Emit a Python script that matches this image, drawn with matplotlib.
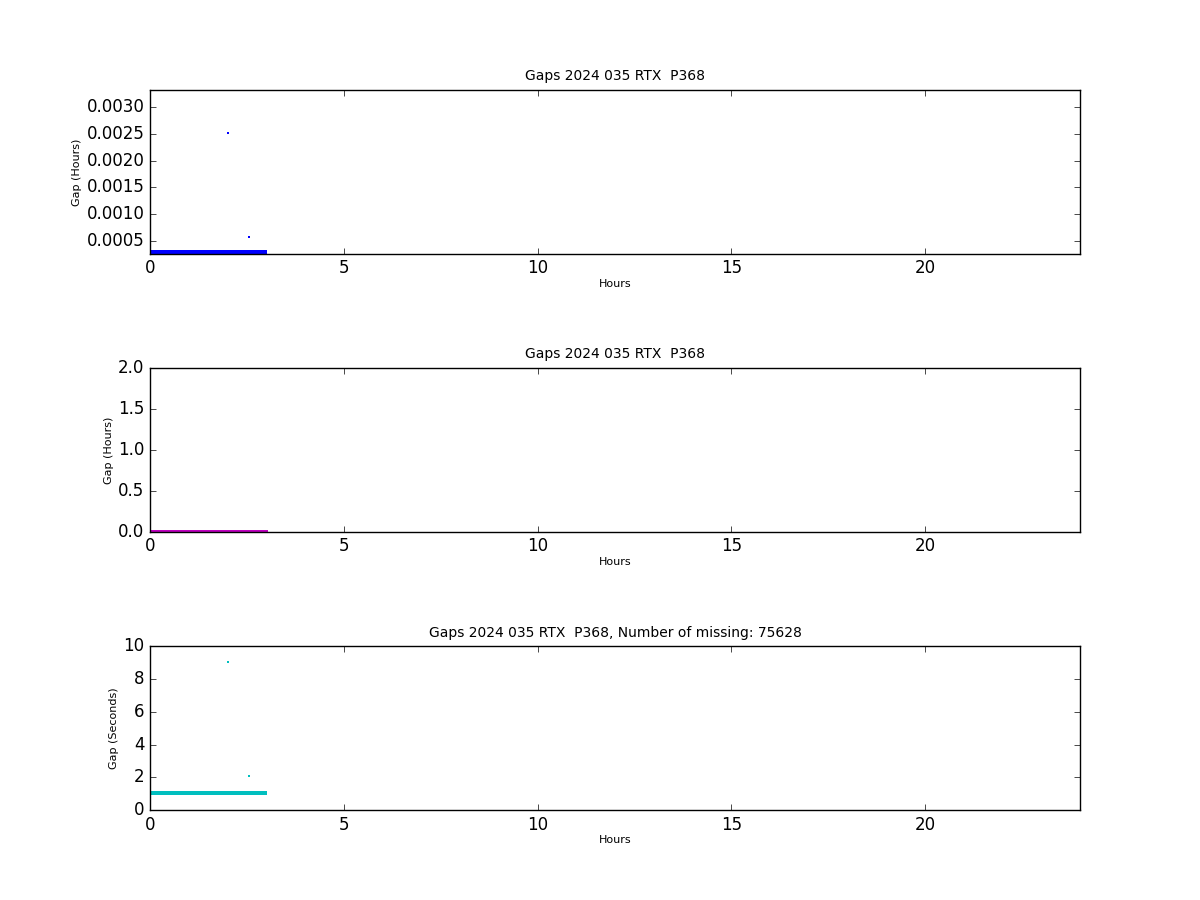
import numpy as np
import matplotlib
matplotlib.use("Agg")
import matplotlib.pyplot as plt

plt.style.use('classic')

# ---- data ----
title_base = "Gaps 2024 035 RTX  P368"
n_missing = 75628
band_start_h = 0.0          # first regular sample (hours)
band_end_h = 3.0            # last regular sample (hours)
sample_step_s = 1.0         # cadence of regular samples (seconds)
band_gap_levels_s = [1.0, 1.1]   # gap values seen in the dense band (seconds)
outlier_hours = [2.0, 2.56]
outlier_gaps_s = [9.05, 2.05]

band_hours = np.arange(band_start_h, band_end_h, sample_step_s / 3600.0)
hours = np.concatenate([band_hours for _ in band_gap_levels_s] + [np.array(outlier_hours)])
gaps_s = np.concatenate([np.full(band_hours.size, g) for g in band_gap_levels_s] + [np.array(outlier_gaps_s)])
gaps_h = gaps_s / 3600.0

xticks = [0, 5, 10, 15, 20]

fig = plt.figure(figsize=(12, 9), dpi=100)
fig.subplots_adjust(left=0.125, right=0.9, bottom=0.1, top=0.9, hspace=0.7)

def style(ax, title, ylabel):
    ax.set_xlim(0, 24)
    ax.set_xticks(xticks)
    ax.set_title(title, fontsize=10, pad=7)
    ax.set_xlabel("Hours", fontsize=8, labelpad=1)
    ax.set_ylabel(ylabel, fontsize=8, labelpad=3)

ax1 = fig.add_subplot(3, 1, 1)
ax1.plot(hours, gaps_h, linestyle='none', marker='s', markersize=1.6,
         markeredgewidth=0, color='b')
ax1.set_ylim(0.000257, 0.00332)
ax1.set_yticks([0.0005, 0.0010, 0.0015, 0.0020, 0.0025, 0.0030])
ax1.yaxis.set_major_formatter(matplotlib.ticker.FormatStrFormatter('%.4f'))
style(ax1, title_base, "Gap (Hours)")

ax2 = fig.add_subplot(3, 1, 2)
ax2.plot(hours, gaps_h, linestyle='none', marker='s', markersize=2.2,
         markeredgewidth=0, color='m')
ax2.set_ylim(0, 2.0)
ax2.set_yticks([0.0, 0.5, 1.0, 1.5, 2.0])
style(ax2, title_base, "Gap (Hours)")

ax3 = fig.add_subplot(3, 1, 3)
ax3.plot(hours, gaps_s, linestyle='none', marker='s', markersize=1.6,
         markeredgewidth=0, color='c')
ax3.set_ylim(0, 10)
ax3.set_yticks([0, 2, 4, 6, 8, 10])
style(ax3, f"{title_base}, Number of missing: {n_missing}", "Gap (Seconds)")

fig.savefig("out.png", dpi=100, facecolor='white')
